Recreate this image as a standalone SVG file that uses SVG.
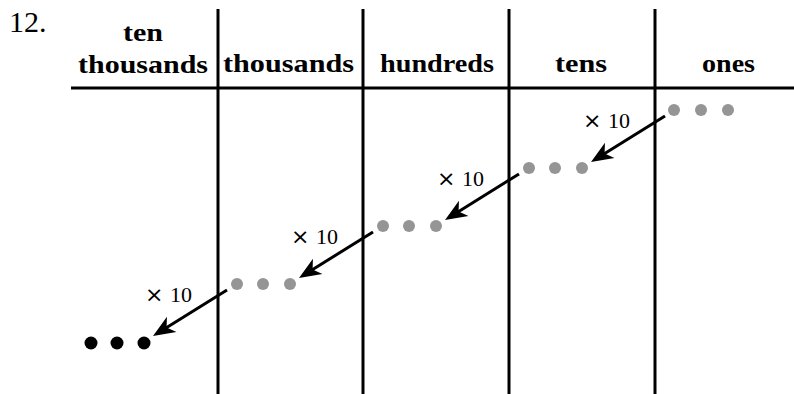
<svg xmlns="http://www.w3.org/2000/svg" width="794" height="394" viewBox="0 0 794 394">
  <style>
    .hdr { font-family: "Liberation Serif", "Times New Roman", serif; font-weight: bold; font-size: 25px; fill: #000; text-anchor: middle; }
    .num { font-family: "Liberation Serif", "Times New Roman", serif; font-size: 30px; fill: #000; }
    .lbl { font-family: "Liberation Serif", "Times New Roman", serif; font-size: 22px; fill: #000; }
    .times { font-family: "DejaVu Sans", sans-serif; font-size: 22px; }
    .grid { stroke: #000; stroke-width: 3; fill: none; }
    .arrow { stroke: #000; stroke-width: 3; fill: none; marker-end: url(#head); }
    .gdot { fill: #959595; }
    .bdot { fill: #000; }
  </style>
  <defs>
    <marker id="head" markerUnits="userSpaceOnUse" markerWidth="30" markerHeight="24" viewBox="-14 -12 28 24" refX="0" refY="0" orient="auto" overflow="visible">
      <path d="M10,0 L-12,-9 L-6,0 L-12,9 Z" fill="#000"/>
    </marker>
  </defs>
  <rect width="794" height="394" fill="#fff"/>

  <text class="num" x="9" y="32">12.</text>

  <g id="grid">
    <line class="grid" x1="71" y1="88" x2="794" y2="88"/>
    <line class="grid" x1="218" y1="9" x2="218" y2="394"/>
    <line class="grid" x1="363" y1="9" x2="363" y2="394"/>
    <line class="grid" x1="509" y1="9" x2="509" y2="394"/>
    <line class="grid" x1="655" y1="9" x2="655" y2="394"/>
  </g>

  <g id="headers">
    <text class="hdr" x="143" y="41" textLength="40" lengthAdjust="spacingAndGlyphs">ten</text>
    <text class="hdr" x="143" y="73" textLength="130" lengthAdjust="spacingAndGlyphs">thousands</text>
    <text class="hdr" x="288.5" y="72" textLength="131" lengthAdjust="spacingAndGlyphs">thousands</text>
    <text class="hdr" x="437" y="72" textLength="114" lengthAdjust="spacingAndGlyphs">hundreds</text>
    <text class="hdr" x="581" y="72" textLength="52" lengthAdjust="spacingAndGlyphs">tens</text>
    <text class="hdr" x="728.5" y="72" textLength="53" lengthAdjust="spacingAndGlyphs">ones</text>
  </g>

  <g id="ones-dots">
    <circle class="gdot" cx="674" cy="110" r="6"/>
    <circle class="gdot" cx="701" cy="110" r="6"/>
    <circle class="gdot" cx="728" cy="110" r="6"/>
  </g>
  <g id="tens-dots">
    <circle class="gdot" cx="529" cy="168" r="6"/>
    <circle class="gdot" cx="555" cy="168" r="6"/>
    <circle class="gdot" cx="582" cy="168" r="6"/>
  </g>
  <g id="hundreds-dots">
    <circle class="gdot" cx="383" cy="226" r="6"/>
    <circle class="gdot" cx="409" cy="226" r="6"/>
    <circle class="gdot" cx="436" cy="226" r="6"/>
  </g>
  <g id="thousands-dots">
    <circle class="gdot" cx="237" cy="284" r="6"/>
    <circle class="gdot" cx="263" cy="284" r="6"/>
    <circle class="gdot" cx="290" cy="284" r="6"/>
  </g>
  <g id="tenthousands-dots">
    <circle class="bdot" cx="91" cy="343" r="6.5"/>
    <circle class="bdot" cx="117" cy="343" r="6.5"/>
    <circle class="bdot" cx="144" cy="343" r="6.5"/>
  </g>

  <g id="connectors">
    <line class="arrow" x1="665" y1="116" x2="599.5" y2="156.7"/>
    <line class="arrow" x1="519" y1="174" x2="453.5" y2="214.7"/>
    <line class="arrow" x1="373" y1="232" x2="307.5" y2="272.7"/>
    <line class="arrow" x1="227" y1="290" x2="161.5" y2="330.7"/>
    <text class="lbl" y="128"><tspan class="times" x="583">×</tspan><tspan x="608">10</tspan></text>
    <text class="lbl" y="186"><tspan class="times" x="437">×</tspan><tspan x="462">10</tspan></text>
    <text class="lbl" y="244"><tspan class="times" x="291">×</tspan><tspan x="316">10</tspan></text>
    <text class="lbl" y="302"><tspan class="times" x="145">×</tspan><tspan x="170">10</tspan></text>
  </g>
</svg>
